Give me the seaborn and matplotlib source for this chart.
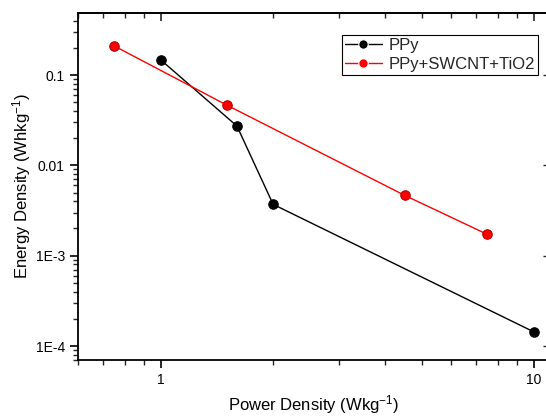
import pandas as pd
import matplotlib as mpl
import matplotlib.pyplot as plt
import seaborn as sns
import numpy as np

# values
ppy_power = [1.0, 1.6, 2.0, 10.0]
ppy_energy = [0.147, 0.0272, 0.0037, 1.43e-4]
comp_power = [0.75, 1.5, 4.5, 7.5]
comp_energy = [0.21, 0.0466, 0.00466, 0.00172]
series_names = ["PPy", "PPy+SWCNT+TiO2"]
ytick_vals = [1e-4, 1e-3, 1e-2, 1e-1]
ytick_labels = ["1E-4", "1E-3", "0.01", "0.1"]
xtick_vals = [1, 10]
xtick_labels = ["1", "10"]

sns.set_style("ticks")
plt.rcParams["font.family"] = ["Liberation Sans", "DejaVu Sans"]
mpl.rcParams["mathtext.default"] = "regular"

data = pd.concat([
    pd.DataFrame({"power": ppy_power, "energy": ppy_energy, "sample": series_names[0]}),
    pd.DataFrame({"power": comp_power, "energy": comp_energy, "sample": series_names[1]}),
])

fig = plt.figure(figsize=(5.46, 4.17), dpi=100)
ax = fig.add_axes([78/546, 1-360/417, (549-78)/546, (360-13)/417])

sns.lineplot(data=data, x="power", y="energy", hue="sample", sort=False, estimator=None,
             palette={"PPy": "black", "PPy+SWCNT+TiO2": "red"}, marker="o",
             markersize=6.8, markeredgewidth=0.8, linewidth=1.0, ax=ax)
for ln, ec in zip(ax.lines, ["#000000", "#b00000"]):
    ln.set_markeredgecolor(ec)

ax.set_xscale("log")
ax.set_yscale("log")
ax.set_xlim(0.6, 10.97)
ax.set_ylim(7e-5, 0.486)

sub = np.arange(2, 10)
ax.set_xticks(xtick_vals)
ax.set_xticklabels(xtick_labels)
ax.set_yticks(ytick_vals)
ax.set_yticklabels(ytick_labels)
ax.xaxis.set_minor_locator(mpl.ticker.LogLocator(base=10, subs=sub))
ax.yaxis.set_minor_locator(mpl.ticker.LogLocator(base=10, subs=sub))
ax.xaxis.set_minor_formatter(mpl.ticker.NullFormatter())
ax.yaxis.set_minor_formatter(mpl.ticker.NullFormatter())

for s in ax.spines.values():
    s.set_linewidth(1.3)
    s.set_color("black")
ax.tick_params(which="major", length=6, width=1.2, labelsize=10, colors="black", direction="out")
ax.tick_params(which="minor", length=3.5, width=1.0, direction="out")
ax.tick_params(top=False, right=False, which="both")

# top axis: ticks pointing inwards, no labels
top = ax.secondary_xaxis("top")
top.set_xticks(xtick_vals)
top.xaxis.set_minor_locator(mpl.ticker.LogLocator(base=10, subs=sub))
top.tick_params(which="major", direction="in", length=6, width=1.2, labeltop=False)
top.tick_params(which="minor", direction="in", length=3.5, width=1.0)
top.xaxis.set_minor_formatter(mpl.ticker.NullFormatter())
top.spines["top"].set_linewidth(1.3)

# right axis: short major ticks only
right = ax.secondary_yaxis("right")
right.set_yticks(ytick_vals)
right.yaxis.set_minor_locator(mpl.ticker.NullLocator())
right.tick_params(which="major", direction="in", length=4, width=1.0, labelright=False)

ax.set_xlabel("Power Density (Wkg$^{-1}$)", fontsize=12, color="k")
ax.set_ylabel("Energy Density (Whkg$^{-1}$)", fontsize=12, color="k", labelpad=1.5)

leg = ax.legend(loc="upper right", bbox_to_anchor=(0.977, 0.937), borderaxespad=0,
                fontsize=12, frameon=True, fancybox=False, framealpha=1,
                edgecolor="black", handlelength=2.2, handletextpad=0.4,
                borderpad=0.2, labelspacing=0.2, title=None)
leg.get_frame().set_linewidth(0.8)

plt.savefig("out.png", dpi=100)
plt.close()
